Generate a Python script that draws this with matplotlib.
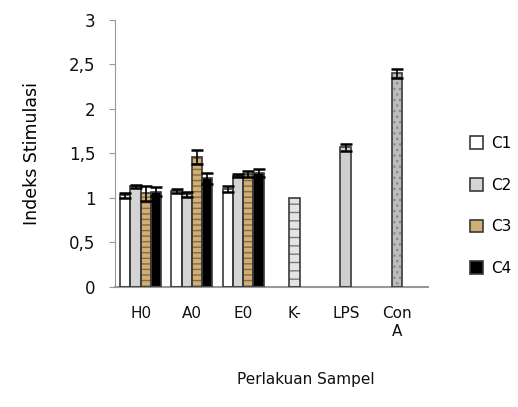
import matplotlib
matplotlib.use("Agg")
import matplotlib.pyplot as plt
from matplotlib.patches import Patch
import numpy as np

groups = ["H0", "A0", "E0"]
series = ["C1", "C2", "C3", "C4"]
group_vals = {
    "C1": [1.03, 1.08, 1.10],
    "C2": [1.13, 1.04, 1.25],
    "C3": [1.05, 1.46, 1.27],
    "C4": [1.07, 1.22, 1.28],
}
group_err = {
    "C1": [0.03, 0.02, 0.03],
    "C2": [0.02, 0.03, 0.02],
    "C3": [0.08, 0.08, 0.03],
    "C4": [0.05, 0.06, 0.04],
}
controls = ["K-", "LPS", "Con\nA"]
control_vals = [1.00, 1.57, 2.40]
control_err = [0.0, 0.04, 0.05]

styles = {
    "C1": dict(face="white", hatch=None, hcol=None),
    "C2": dict(face="#d4d4d4", hatch=None, hcol=None),
    "C3": dict(face="#cfae78", hatch="---", hcol="#8c6a38"),
    "C4": dict(face="black", hatch=None, hcol=None),
}
control_styles = [
    dict(face="#e4e4e4", hatch="--", hcol="#7a7a7a"),
    dict(face="#cfcfcf", hatch=None, hcol=None),
    dict(face="#bdbdbd", hatch="...", hcol="#8a8a8a"),
]
edge = "#3a3a3a"


def draw_bar(ax, x, h, w, st, err):
    ax.bar(x, h, w, color=st["face"], edgecolor=st["hcol"] or st["face"],
           hatch=st["hatch"], linewidth=0, zorder=2)
    ax.bar(x, h, w, fill=False, edgecolor=edge, linewidth=1.2, zorder=3)
    if err > 0:
        ax.errorbar(x, h, yerr=err, fmt="none", ecolor="black",
                    elinewidth=1.2, capsize=4, capthick=1.8, zorder=4)


fig = plt.figure(figsize=(5.18, 4.07), dpi=100)
ax = fig.add_axes([0.222, 0.295, 0.604, 0.656])

w = 0.2
for i, s in enumerate(series):
    for g in range(len(groups)):
        draw_bar(ax, g + (i - 1.5) * w, group_vals[s][g], w, styles[s], group_err[s][g])
for j, c in enumerate(controls):
    draw_bar(ax, len(groups) + j, control_vals[j], 0.21, control_styles[j], control_err[j])

labels = groups + controls
ax.set_xticks(np.arange(len(labels)))
ax.set_xticklabels(labels, fontsize=11, va="top", color="#111111")
ax.tick_params(axis="x", length=0, pad=14)
ax.set_xlim(-0.5, 5.6)
ax.set_ylim(0, 3)
yticks = [0, 0.5, 1, 1.5, 2, 2.5, 3]
ax.set_yticks(yticks)
ax.set_yticklabels(["0", "0,5", "1", "1,5", "2", "2,5", "3"], fontsize=12, color="#111111")
ax.tick_params(axis="y", length=4, color="#999999", pad=10)
for sp in ["top", "right"]:
    ax.spines[sp].set_visible(False)
ax.spines["left"].set_color("#999999")
ax.spines["bottom"].set_color("#999999")
ax.spines["bottom"].set_linewidth(1.5)

ax.set_ylabel("Indeks Stimulasi", fontsize=12.5, labelpad=20)
fig.text(0.59, 0.068, "Perlakuan Sampel", fontsize=11, ha="center", va="center",
         color="#111111")

handles = []
for s in series:
    st = styles[s]
    handles.append(Patch(facecolor=st["face"], edgecolor=edge, linewidth=1.2))
fig.legend(handles, series, loc="center left", bbox_to_anchor=(0.88, 0.494),
           frameon=False, handlelength=0.9, handleheight=0.9, handletextpad=0.5,
           labelspacing=1.75, fontsize=11)

fig.savefig("out.png", dpi=100)
